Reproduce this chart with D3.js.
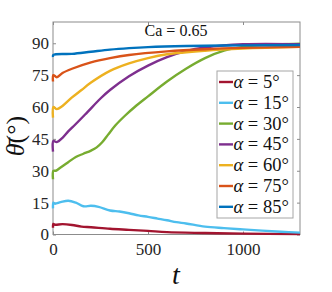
<!DOCTYPE html>
<html><head><meta charset="utf-8">
<script src="https://cdn.jsdelivr.net/npm/d3@7"></script>
<style>body{margin:0;background:#fff}svg{display:block}
svg text{font-family:"Liberation Serif","DejaVu Serif","Times New Roman",serif;}</style>
</head><body>
<svg id="c" width="332" height="292"></svg>
<script>
const alphas = [5, 15, 30, 45, 60, 75, 85];
const colors = ["#A2142F", "#4DBEEE", "#77AC30", "#7E2F8E", "#EDB120", "#D95319", "#0072BD"];
const xTicks = [0, 500, 1000];
const yTicks = [0, 15, 30, 45, 60, 75, 90];
const caLabel = "Ca = 0.65";

const s5  = [[0,3.2],[2,5],[10,4.6],[50,4.9],[100,4.5],[150,3.7],[200,3.4],[300,2.7],[400,2.2],[500,1.7],[600,1.1],[800,0.7],[1000,0.4],[1300,0.2]];
const s15 = [[0,12.3],[2,15],[10,14.5],[40,15.2],[80,15.9],[120,15],[160,13.3],[200,13.5],[240,13],[300,11.3],[350,10.8],[400,10],[450,9],[500,8.3],[550,7.5],[600,6.7],[650,5.8],[700,5.2],[800,3.7],[900,3],[1000,2.4],[1100,1.8],[1200,1.3],[1300,0.9]];
const s30 = [[0,26],[2,30],[15,30],[40,31.5],[80,34],[120,36.5],[160,38],[200,39.5],[230,41],[260,43.5],[290,47],[330,51.5],[380,56],[430,60],[500,65],[600,72],[700,78],[800,83],[900,86.5],[1000,88.3],[1100,89.2],[1300,89.8]];
const s45 = [[0,39],[2,44],[20,43.5],[50,45.5],[80,48.5],[120,52],[180,57.5],[250,64],[300,68],[400,74.5],[500,79.5],[600,83.5],[700,86.3],[800,88],[1000,89.5],[1300,89.5]];
const s60 = [[0,55],[2,60],[20,59],[50,60.5],[100,64.5],[150,68],[200,71.5],[300,77],[400,80.5],[500,83],[600,84.8],[800,86.5],[1000,87.5],[1300,88.3]];
const s75 = [[0,72],[2,75],[20,74],[50,76],[100,78],[200,81],[300,83],[400,84.5],[600,86.2],[800,87.2],[1000,87.8],[1300,88.3]];
const s85 = [[0,83.5],[2,84.5],[100,85],[200,86],[300,87],[400,87.7],[500,88.2],[700,88.7],[1000,89],[1300,89.2]];
const series = [s5, s15, s30, s45, s60, s75, s85];

const svg = d3.select("#c");
const L = 53, R = 300, T = 22, B = 234.5;
const x = d3.scaleLinear().domain([0, 1300]).range([L, R]);
const y = d3.scaleLinear().domain([0, 100]).range([B, T]);
const serif = "Liberation Serif, DejaVu Serif, serif";
const axisCol = "#8c8c8c";

svg.append("rect").attr("x", L).attr("y", T).attr("width", R - L).attr("height", B - T)
  .attr("fill", "none").attr("stroke", axisCol).attr("stroke-width", 1);

const gx = svg.append("g").attr("transform", `translate(0,${B})`)
  .call(d3.axisBottom(x).tickValues(xTicks).tickSize(-3).tickPadding(8).tickFormat(d3.format("d")));
const gxt = svg.append("g").attr("transform", `translate(0,${T})`)
  .call(d3.axisTop(x).tickValues(xTicks).tickSize(-3).tickFormat(""));
const gy = svg.append("g").attr("transform", `translate(${L},0)`)
  .call(d3.axisLeft(y).tickValues(yTicks).tickSize(-3).tickPadding(4));
const gyr = svg.append("g").attr("transform", `translate(${R},0)`)
  .call(d3.axisRight(y).tickValues(yTicks).tickSize(-3).tickFormat(""));
[gx, gxt, gy, gyr].forEach(g => {
  g.attr("font-family", null).attr("font-size", null);
  g.select(".domain").remove();
  g.selectAll(".tick line").attr("stroke", axisCol);
  g.selectAll("text").style("font-family", serif).style("font-size", "17px").attr("fill", "#262626");
});

const line = d3.line().x(d => x(d[0])).y(d => y(d[1])).curve(d3.curveCatmullRom.alpha(0.5));
series.forEach((s, i) => {
  svg.append("path").datum(s).attr("d", line).attr("fill", "none")
    .attr("stroke", colors[i]).attr("stroke-width", 2.4).attr("stroke-linejoin", "round");
});

svg.append("text").attr("x", 176).attr("y", 36).attr("text-anchor", "middle")
  .style("font-family", serif).style("font-size", "16px").attr("fill", "#111").text(caLabel);

const lg = svg.append("g");
lg.append("rect").attr("x", 217).attr("y", 71).attr("width", 76).attr("height", 147)
  .attr("fill", "#fff").attr("stroke", "#a6a6a6").attr("stroke-width", 1);
alphas.forEach((a, i) => {
  const yy = 82 + i * 20.8;
  lg.append("line").attr("x1", 219).attr("x2", 233).attr("y1", yy).attr("y2", yy)
    .attr("stroke", colors[i]).attr("stroke-width", 2.4);
  const t = lg.append("text").attr("x", 233.5).attr("y", yy + 6)
    .style("font-family", serif).style("font-size", "18.5px").attr("fill", "#111");
  t.append("tspan").attr("font-style", "italic").text("α");
  t.append("tspan").text(" = " + a + "°");
});

svg.append("text").attr("x", 176).attr("y", 284).attr("text-anchor", "middle")
  .style("font-family", serif).attr("font-style", "italic").style("font-size", "28px").attr("fill", "#111").text("t");
const yl = svg.append("text").attr("transform", "translate(24,136) rotate(-90)").attr("text-anchor", "middle")
  .style("font-family", serif).style("font-size", "26px").attr("fill", "#111");
yl.append("tspan").attr("font-style", "italic").text("θ\u0304");
yl.append("tspan").text("(°)");
</script>
</body></html>
